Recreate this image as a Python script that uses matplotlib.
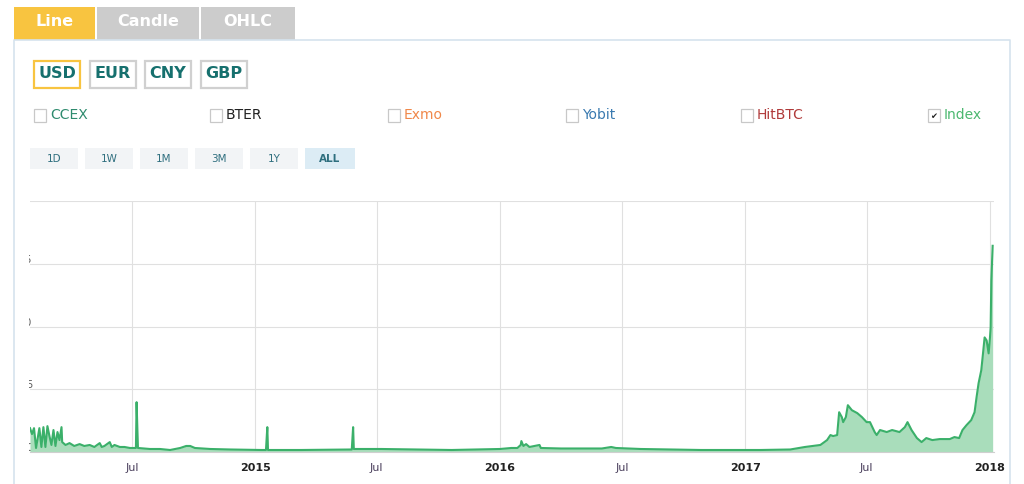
import numpy as np
import pandas as pd
import matplotlib
matplotlib.use('Agg')
import matplotlib.pyplot as plt
from matplotlib.patches import Rectangle
from matplotlib.transforms import Bbox

# index price (grid step = 5)
dates = ['2014-01-30', '2014-02-02', '2014-02-05', '2014-02-08', '2014-02-13', '2014-02-16',
         '2014-02-19', '2014-02-22', '2014-02-25', '2014-02-28', '2014-03-03', '2014-03-06',
         '2014-03-09', '2014-03-12', '2014-03-15', '2014-03-18', '2014-03-19', '2014-03-24',
         '2014-03-30', '2014-04-06', '2014-04-14', '2014-04-21', '2014-04-29', '2014-05-06',
         '2014-05-14', '2014-05-17', '2014-05-21', '2014-05-29', '2014-06-01', '2014-06-05',
         '2014-06-13', '2014-06-20', '2014-06-28', '2014-07-05', '2014-07-07', '2014-07-08',
         '2014-07-10', '2014-07-28', '2014-08-12', '2014-08-27', '2014-09-11', '2014-09-20',
         '2014-09-26', '2014-10-03', '2014-10-26', '2014-11-25', '2015-01-10', '2015-01-17',
         '2015-01-19', '2015-01-20', '2015-03-10', '2015-05-25', '2015-05-27', '2015-05-28',
         '2015-07-08', '2015-10-21', '2016-01-01', '2016-01-18', '2016-01-27', '2016-02-01',
         '2016-02-02', '2016-02-05', '2016-02-09', '2016-02-14', '2016-02-29', '2016-03-02',
         '2016-04-01', '2016-06-01', '2016-06-15', '2016-06-22', '2016-07-29', '2016-10-27',
         '2017-01-24', '2017-03-09', '2017-03-31', '2017-04-23', '2017-05-03', '2017-05-08',
         '2017-05-12', '2017-05-18', '2017-05-21', '2017-05-25', '2017-05-27', '2017-05-31',
         '2017-06-03', '2017-06-09', '2017-06-17', '2017-06-24', '2017-07-01', '2017-07-06',
         '2017-07-13', '2017-07-16', '2017-07-21', '2017-07-31', '2017-08-08', '2017-08-19',
         '2017-08-27', '2017-08-31', '2017-09-06', '2017-09-14', '2017-09-21', '2017-09-28',
         '2017-10-07', '2017-10-18', '2017-11-02', '2017-11-09', '2017-11-16', '2017-11-21',
         '2017-11-27', '2017-12-04', '2017-12-09', '2017-12-12', '2017-12-15', '2017-12-19',
         '2017-12-21', '2017-12-24', '2017-12-27', '2017-12-30', '2018-01-01', '2018-01-02',
         '2018-01-03', '2018-01-05']
price = [1.90, 1.43, 1.90, 0.32, 1.90, 0.40, 1.98, 0.40, 2.06, 1.27, 0.56, 1.75,
         0.48, 1.59, 0.95, 1.98, 0.79, 0.56, 0.71, 0.48, 0.63, 0.48, 0.56, 0.40,
         0.71, 0.40, 0.48, 0.79, 0.40, 0.56, 0.40, 0.40, 0.32, 0.32, 0.32, 3.97,
         0.32, 0.24, 0.24, 0.16, 0.32, 0.48, 0.48, 0.32, 0.24, 0.20, 0.16, 0.16,
         1.98, 0.16, 0.16, 0.20, 1.98, 0.24, 0.24, 0.16, 0.24, 0.32, 0.32, 0.56,
         0.87, 0.48, 0.63, 0.40, 0.56, 0.32, 0.28, 0.28, 0.40, 0.32, 0.24, 0.16,
         0.16, 0.20, 0.40, 0.56, 0.95, 1.35, 1.27, 1.35, 3.17, 2.78, 2.38, 2.78,
         3.73, 3.33, 3.10, 2.78, 2.38, 2.38, 1.59, 1.35, 1.75, 1.59, 1.75, 1.59,
         1.98, 2.38, 1.75, 1.11, 0.79, 1.11, 0.95, 1.03, 1.03, 1.19, 1.11, 1.75,
         2.14, 2.54, 3.17, 4.37, 5.48, 6.51, 7.54, 9.13, 8.89, 7.86, 9.13, 9.92,
         13.65, 16.43]

tick_dates = ['2014-07-01', '2015-01-01', '2015-07-01', '2016-01-01', '2016-07-01',
              '2017-01-01', '2017-07-01', '2018-01-01']
tick_labels = ['Jul', '2015', 'Jul', '2016', 'Jul', '2017', 'Jul', '2018']
y_ticks = [0, 5, 10, 15, 20]
# y labels are cut off in the original, only the last digit shows
y_label_ticks = [0, 5, 10, 15]
y_label_text = ['0', '5', '10', '15']

tabs = ['Line', 'Candle', 'OHLC']
currencies = ['USD', 'EUR', 'CNY', 'GBP']
exchanges = ['CCEX', 'BTER', 'Exmo', 'Yobit', 'HitBTC', 'Index']
exchange_colors = ['#2e8b6e', '#222222', '#f0884a', '#3a7ab0', '#b03a3a', '#4cb870']
ranges = ['1D', '1W', '1M', '3M', '1Y', 'ALL']

plt.rcParams['font.family'] = ['DejaVu Sans']

fig = plt.figure(figsize=(10.24, 4.84), dpi=100)

# UI layer in pixel coordinates
ui = fig.add_axes([0, 0, 1, 1])
ui.set_xlim(0, 1024)
ui.set_ylim(484, 0)
ui.axis('off')

# panel border
ui.plot([14, 14, 1010, 1010], [484, 40, 40, 484], color='#d5e3ee', lw=1.2)

# tabs
tab_x = [14, 97, 201]
tab_w = [81, 102, 94]
for i, t in enumerate(tabs):
    fc = '#f8c440' if i == 0 else '#cccccc'
    ui.add_patch(Rectangle((tab_x[i], 7), tab_w[i], 33, fc=fc, ec='none'))
    ui.text(tab_x[i] + tab_w[i] / 2, 21, t, color='white', fontsize=11.5,
            fontweight='bold', ha='center', va='center')

# currency buttons
cur_x = [34, 90, 145, 201]
for i, c in enumerate(currencies):
    ec = '#f8c440' if i == 0 else '#d0d0d0'
    ui.add_patch(Rectangle((cur_x[i], 61), 46, 27, fc='white', ec=ec, lw=1.6))
    ui.text(cur_x[i] + 23, 73, c, color='#16706e', fontsize=11.5,
            fontweight='bold', ha='center', va='center')

# exchange checkboxes
ex_x = [34, 210, 388, 566, 741, 928]
for i, e in enumerate(exchanges):
    ui.add_patch(Rectangle((ex_x[i], 109), 12, 13, fc='white', ec='#c8c8c8', lw=0.9))
    if e == 'Index':
        ui.text(ex_x[i] + 6, 116, '\u2714', fontsize=6, color='#222222',
                ha='center', va='center')
    ui.text(ex_x[i] + 16, 115, e, color=exchange_colors[i], fontsize=10,
            ha='left', va='center')

# range buttons
rng_x = [30, 85, 140, 195, 250, 305]
for i, r in enumerate(ranges):
    sel = r == 'ALL'
    ui.add_patch(Rectangle((rng_x[i], 148), 50 if sel else 48, 21,
                           fc='#dcecf5' if sel else '#f2f4f6', ec='none'))
    ui.text(rng_x[i] + (25 if sel else 24), 158.5, r, color='#2f6f7f', fontsize=7.5,
            fontweight='bold' if sel else 'normal', ha='center', va='center')

# chart
ax = fig.add_axes([30 / 1024, (484 - 452) / 484, (994 - 30) / 1024, (452 - 201) / 484])
x = pd.to_datetime(dates)
ax.fill_between(x, price, 0, color='#a9ddbb', lw=0)
ax.plot(x, price, color='#3bb06a', lw=1.5)
ax.set_xlim(pd.Timestamp('2014-01-30'), pd.Timestamp('2018-01-07'))
ax.set_ylim(0, 20)
ax.set_yticks(y_ticks)
ax.set_yticklabels([])
ax.set_xticks(pd.to_datetime(tick_dates))
ax.set_xticklabels(tick_labels)
for lbl in ax.get_xticklabels():
    if lbl.get_text() == 'Jul':
        lbl.set_color('#4a3f5c')
    else:
        lbl.set_fontweight('bold')
        lbl.set_color('#222222')
    lbl.set_fontsize(8)
ax.tick_params(axis='both', length=0, pad=8)
ax.grid(True, color='#e0e0e0', lw=0.8)
ax.set_axisbelow(True)
for s in ['top', 'right', 'left']:
    ax.spines[s].set_visible(False)
ax.spines['bottom'].set_color('#cfcfcf')
ax.patch.set_alpha(0)

# cut-off y labels at the left edge
for v, t in zip(y_label_ticks, y_label_text):
    yl = ui.text(32.5, 452 - v * 251 / 20 - 4, t, color='#555555', fontsize=7,
                 ha='right', va='center', clip_on=True)
    yl.set_clip_box(Bbox.from_extents(28.5, 0, 40, 484))

fig.savefig('out.png', dpi=100)
